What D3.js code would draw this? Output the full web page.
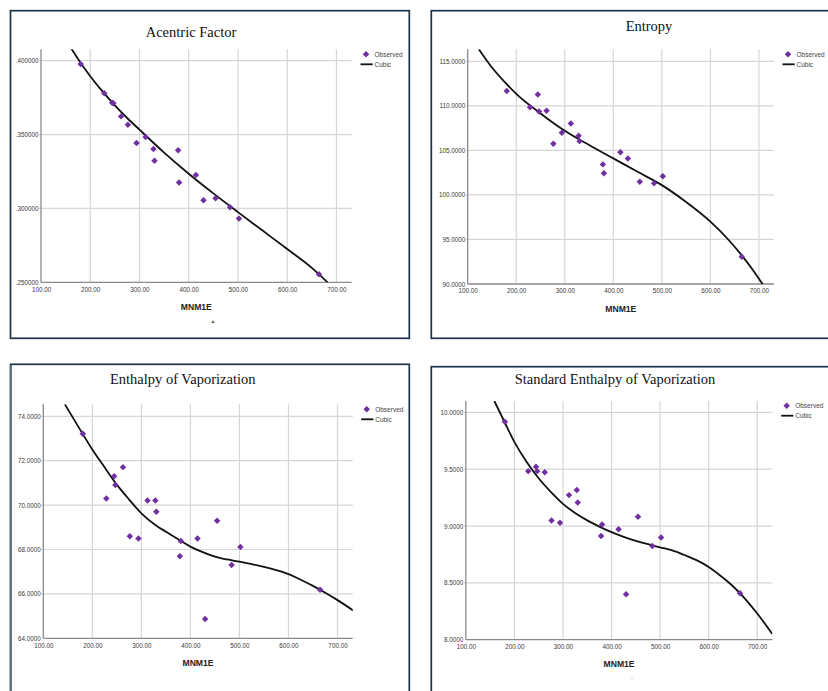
<!DOCTYPE html>
<html><head><meta charset="utf-8">
<script src="https://cdn.jsdelivr.net/npm/d3@7"></script>
<style>body{margin:0;background:#fff}svg{display:block}</style>
</head><body>
<svg id="chart" width="828" height="691"></svg>
<script>
// ---- data ----
const mnm = [180.5, 228.5, 244.5, 247, 262.5, 276.5, 294, 312.5, 328.5, 330.5, 378.5, 380.5, 414.5, 430, 454.5, 484, 502, 664.5];
const acentric = [0.3977, 0.3779, 0.3716, 0.3712, 0.3623, 0.3567, 0.3443, 0.3484, 0.3402, 0.3323, 0.3393, 0.3175, 0.3227, 0.3055, 0.3069, 0.3008, 0.2931, 0.2554];
const entropy = [111.68, 109.85, 111.27, 109.37, 109.44, 105.75, 106.98, 108.02, 106.64, 106.04, 103.43, 102.43, 104.78, 104.10, 101.49, 101.31, 102.09, 93.06];
const enthalpy = [73.21, 70.30, 71.30, 70.91, 71.71, 68.60, 68.50, 70.21, 70.21, 69.70, 67.70, 68.38, 68.50, 64.87, 69.29, 67.30, 68.11, 66.19];
const stdEnthalpy = [9.918, 9.483, 9.521, 9.483, 9.474, 9.048, 9.028, 9.272, 9.316, 9.207, 8.913, 9.013, 8.972, 8.399, 9.081, 8.825, 8.899, 8.408];

// cubic fit lines
const acentricFitX = [161.4, 180, 200, 225, 250, 275, 300, 350, 400, 450, 500, 550, 600, 650, 682];
const acentricFitY = [0.4083, 0.3988, 0.3895, 0.3792, 0.3698, 0.3612, 0.3533, 0.3378, 0.3235, 0.3102, 0.2975, 0.2850, 0.2725, 0.2598, 0.2500];
const entropyFitX = [123, 150, 175, 200, 250, 300, 350, 400, 450, 500, 550, 600, 640, 665, 690, 708];
const entropyFitY = [116.35, 114.3, 112.75, 111.35, 109.15, 107.2, 105.6, 104.1, 102.6, 101.1, 99.2, 97.0, 94.8, 93.18, 91.38, 89.94];
const enthalpyFitX = [144, 160, 180, 200, 225, 250, 275, 300, 330, 350, 380, 400, 425, 450, 475, 500, 525, 550, 575, 600, 625, 650, 675, 700, 733];
const enthalpyFitY = [74.54, 73.95, 73.22, 72.5, 71.7, 70.92, 70.25, 69.63, 69.08, 68.8, 68.39, 68.13, 67.88, 67.68, 67.55, 67.45, 67.34, 67.22, 67.07, 66.89, 66.64, 66.36, 66.05, 65.72, 65.24];
const stdEnthalpyFitX = [158.8, 180, 200, 225, 250, 275, 300, 325, 350, 375, 400, 425, 450, 475, 500, 525, 550, 575, 600, 625, 650, 675, 700, 731];
const stdEnthalpyFitY = [10.10, 9.913, 9.74, 9.565, 9.42, 9.30, 9.195, 9.115, 9.05, 8.995, 8.946, 8.905, 8.87, 8.84, 8.813, 8.785, 8.745, 8.70, 8.64, 8.56, 8.47, 8.36, 8.23, 8.05];

const xTicks = [100, 200, 300, 400, 500, 600, 700];
const acentricTicks = [0.25, 0.30, 0.35, 0.40];
const entropyTicks = [90, 95, 100, 105, 110, 115];
const enthalpyTicks = [64, 66, 68, 70, 72, 74];
const stdEnthalpyTicks = [8.0, 8.5, 9.0, 9.5, 10.0];
const titles = ["Acentric Factor", "Entropy", "Enthalpy of Vaporization", "Standard Enthalpy of Vaporization"];
const xTitle = "MNM1E";
const legendLabels = ["Observed", "Cubic"];

// ---- layout ----
const panels = [
  {title: titles[0], values: acentric, fitX: acentricFitX, fitY: acentricFitY, yTicks: acentricTicks,
   yDomain: [0.25, 0.4077], yFmt: d => d3.format(".6f")(d).replace(/^0/, ""),
   frame: [10.5, 10.7, 398.8, 327.6], plot: {l: 41, r: 351.7, t: 49.3, b: 282.3},
   titlePos: [191, 37], legend: [366, 54.3], mark: {text: "▲", x: 213, y: 322.5, size: 5, color: "#555"}},
  {title: titles[1], values: entropy, fitX: entropyFitX, fitY: entropyFitY, yTicks: entropyTicks,
   yDomain: [90, 116.35], yFmt: d3.format(".4f"),
   frame: [431.3, 10.7, 420, 327.6], plot: {l: 467.7, r: 774, t: 49.3, b: 284},
   titlePos: [649, 31], legend: [788, 54.3]},
  {title: titles[2], values: enthalpy, fitX: enthalpyFitX, fitY: enthalpyFitY, yTicks: enthalpyTicks,
   yDomain: [64, 74.54], yFmt: d3.format(".4f"),
   frame: [10.7, 364.3, 398.6, 400], plot: {l: 43.3, r: 352.7, t: 404.3, b: 638.3},
   titlePos: [182.7, 383.5], legend: [366.7, 409.3], leftBorder: "#5f707d"},
  {title: titles[3], values: stdEnthalpy, fitX: stdEnthalpyFitX, fitY: stdEnthalpyFitY, yTicks: stdEnthalpyTicks,
   yDomain: [8, 10.1], yFmt: d3.format(".4f"),
   frame: [431.3, 366.7, 420, 400], plot: {l: 465.8, r: 772.3, t: 401, b: 639.7},
   titlePos: [615, 383.7], legend: [786.7, 405.7], mark: {text: "–", x: 632, y: 679.5, size: 6, color: "#bbb"}}
];

const svg = d3.select("#chart");
const font = "'Liberation Sans', Arial, sans-serif";
const purple = "#70309f";
const diamond = d3.symbol().type(d3.symbolSquare).size(21);

panels.forEach((p, i) => {
  const g = svg.append("g");
  const [fx, fy, fw, fh] = p.frame;
  g.append("rect").attr("x", fx).attr("y", fy).attr("width", fw).attr("height", fh)
    .attr("fill", "#fff").attr("stroke", "#1c3246").attr("stroke-width", 1.7);
  if (p.leftBorder) {
    g.append("line").attr("x1", fx).attr("x2", fx).attr("y1", fy + 1).attr("y2", fy + fh)
      .attr("stroke", p.leftBorder).attr("stroke-width", 2.2);
  }

  const x = d3.scaleLinear().domain([100, 731]).range([p.plot.l, p.plot.r]);
  const y = d3.scaleLinear().domain(p.yDomain).range([p.plot.b, p.plot.t]);

  // grid lines
  g.append("g").selectAll("line").data(xTicks.slice(1)).join("line")
    .attr("x1", d => x(d)).attr("x2", d => x(d)).attr("y1", p.plot.t).attr("y2", p.plot.b)
    .attr("stroke", "#d6d6d6").attr("stroke-width", 1.2);
  g.append("g").selectAll("line").data(p.yTicks.slice(1)).join("line")
    .attr("x1", p.plot.l - 2).attr("x2", p.plot.r).attr("y1", d => y(d)).attr("y2", d => y(d))
    .attr("stroke", "#d6d6d6").attr("stroke-width", 1.2);

  // axes labels via d3 axes
  const xa = g.append("g").attr("transform", `translate(0,${p.plot.b})`)
    .call(d3.axisBottom(x).tickValues(xTicks).tickFormat(d3.format(".2f")).tickSize(0).tickPadding(5));
  const ya = g.append("g").attr("transform", `translate(${p.plot.l},0)`)
    .call(d3.axisLeft(y).tickValues(p.yTicks).tickFormat(p.yFmt).tickSize(0).tickPadding(2.5));
  [xa, ya].forEach(a => {
    a.select(".domain").remove();
    a.selectAll("text").attr("font-family", font).attr("font-size", 6.3).attr("fill", "#3a3a3a");
  });

  // axis lines
  g.append("line").attr("x1", p.plot.l).attr("x2", p.plot.l).attr("y1", p.plot.t).attr("y2", p.plot.b)
    .attr("stroke", "#8a8a8a").attr("stroke-width", 1.3);
  g.append("line").attr("x1", p.plot.l).attr("x2", p.plot.r).attr("y1", p.plot.b).attr("y2", p.plot.b)
    .attr("stroke", "#8a8a8a").attr("stroke-width", 1.3);

  // fit curve (clipped to plot)
  const clipId = "clip" + i;
  g.append("clipPath").attr("id", clipId).append("rect")
    .attr("x", p.plot.l).attr("y", p.plot.t).attr("width", p.plot.r - p.plot.l).attr("height", p.plot.b - p.plot.t);
  const fit = p.fitX.map((v, k) => [v, p.fitY[k]]);
  g.append("path").datum(fit).attr("clip-path", `url(#${clipId})`)
    .attr("d", d3.line().x(d => x(d[0])).y(d => y(d[1])).curve(d3.curveMonotoneX))
    .attr("fill", "none").attr("stroke", "#111").attr("stroke-width", 1.8);

  // observed points
  g.append("g").selectAll("path").data(mnm.map((m, k) => [m, p.values[k]])).join("path")
    .attr("d", diamond)
    .attr("transform", d => `translate(${x(d[0])},${y(d[1])}) rotate(45)`)
    .attr("fill", purple);

  // title
  g.append("text").attr("x", p.titlePos[0]).attr("y", p.titlePos[1]).attr("text-anchor", "middle")
    .attr("font-family", "'Liberation Serif', 'Times New Roman', serif").attr("font-size", 14.5)
    .attr("fill", "#111").text(p.title);

  // x axis title
  g.append("text").attr("x", (p.plot.l + p.plot.r) / 2).attr("y", p.plot.b + 27.5).attr("text-anchor", "middle")
    .attr("font-family", font).attr("font-size", 8.6).attr("font-weight", "bold").attr("fill", "#222").text(xTitle);

  // legend
  const [lx, ly] = p.legend;
  g.append("path").attr("d", diamond).attr("transform", `translate(${lx},${ly}) rotate(45)`).attr("fill", purple);
  g.append("text").attr("x", lx + 8.5).attr("y", ly + 2.3).attr("font-family", font).attr("font-size", 6.5)
    .attr("fill", "#444").text(legendLabels[0]);
  g.append("line").attr("x1", lx - 5.5).attr("x2", lx + 6.7).attr("y1", ly + 10).attr("y2", ly + 10)
    .attr("stroke", "#111").attr("stroke-width", 1.8);
  g.append("text").attr("x", lx + 8.5).attr("y", ly + 12.3).attr("font-family", font).attr("font-size", 6.5)
    .attr("fill", "#444").text(legendLabels[1]);

  if (p.mark) {
    g.append("text").attr("x", p.mark.x).attr("y", p.mark.y).attr("text-anchor", "middle")
      .attr("font-family", font).attr("font-size", p.mark.size).attr("fill", p.mark.color).text(p.mark.text);
  }
});
</script>
</body></html>
